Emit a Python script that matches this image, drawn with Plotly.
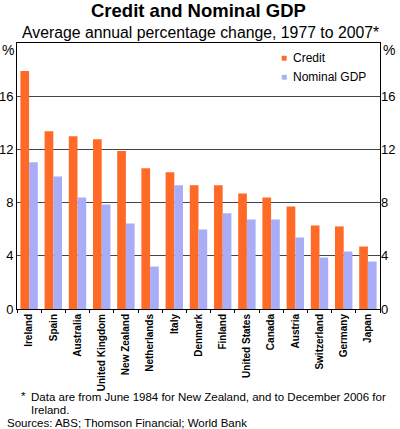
import plotly.graph_objects as go

countries = ["Ireland", "Spain", "Australia", "United Kingdom", "New Zealand",
             "Netherlands", "Italy", "Denmark", "Finland", "United States",
             "Canada", "Austria", "Switzerland", "Germany", "Japan"]
credit = [17.9, 13.37, 12.99, 12.76, 11.88, 10.58, 10.28, 9.30, 9.30, 8.69,
          8.39, 7.71, 6.28, 6.21, 4.70]
nominal_gdp = [11.03, 9.97, 8.39, 7.86, 6.43, 3.19, 9.30, 5.98, 7.19, 6.73,
               6.73, 5.38, 3.87, 4.32, 3.57]
yticks = [0, 4, 8, 12, 16]

ORANGE = "#FF6A26"
LAV = "#A9ADF8"
FONT = "Liberation Sans, Arial, sans-serif"
W, H = 400, 429
ML, MR, MT, MB = 17, 20, 43, 120

fig = go.Figure()
fig.add_trace(go.Bar(x=countries, y=credit, marker_color=ORANGE, marker_line_width=0,
                     showlegend=False, name="Credit"))
fig.add_trace(go.Bar(x=countries, y=nominal_gdp, marker_color=LAV, marker_line_width=0,
                     showlegend=False, name="Nominal GDP"))
fig.add_trace(go.Scatter(x=[countries[0]], y=[0], yaxis="y2", mode="markers",
                         marker=dict(opacity=0, size=1), showlegend=False,
                         hoverinfo="skip"))

fig.update_layout(
    width=W, height=H,
    margin=dict(l=ML, r=MR, t=MT, b=MB, autoexpand=False),
    paper_bgcolor="white", plot_bgcolor="white",
    font=dict(family=FONT, color="black"),
    barmode="group", bargap=0.28, bargroupgap=0,
    showlegend=False,
    xaxis=dict(range=[-0.5, len(countries) - 0.5],
               tickangle=-90, tickfont=dict(size=10, family=FONT, weight="bold"),
               showline=True, linecolor="black", linewidth=1, mirror=True,
               ticks="outside", tickson="boundaries", ticklen=3, tickcolor="black",
               showgrid=False, automargin=False),
    yaxis=dict(range=[0, 20], tickvals=yticks, showgrid=True, gridcolor="#444444",
               gridwidth=1, showline=True, linecolor="black", linewidth=1, mirror=True,
               tickfont=dict(size=13), ticks="", zeroline=False, automargin=False),
    yaxis2=dict(range=[0, 20], tickvals=yticks, overlaying="y", side="right",
                showgrid=False, tickfont=dict(size=13), ticks="", zeroline=False,
                showline=False, automargin=False),
)

def px(xp, yp):
    return (xp - ML) / (W - ML - MR), (H - MB - yp) / (H - MT - MB)

def ann(text, xp, yp, size, xanchor="center", color="black"):
    xx, yy = px(xp, yp)
    fig.add_annotation(text=text, x=xx, y=yy, xref="paper", yref="paper",
                       showarrow=False, xanchor=xanchor, yanchor="middle",
                       font=dict(size=size, family=FONT, color=color))

ann("<b>Credit and Nominal GDP</b>", 199, 10, 18.5)
ann("Average annual percentage change, 1977 to 2007*", 200, 33, 15.8)
ann("%", 8, 50, 14)
ann("%", 389, 50, 14)

# legend
ann("■", 279, 57, 10, xanchor="left", color=ORANGE)
ann("Credit", 291, 58, 12, xanchor="left")
ann("■", 279, 76, 10, xanchor="left", color=LAV)
ann("Nominal GDP", 291, 77, 12, xanchor="left")

ann("*", 19, 396, 11.5, xanchor="left")
ann("Data are from June 1984 for New Zealand, and to December 2006 for", 29, 397, 11.5, xanchor="left")
ann("Ireland.", 29, 410, 11.5, xanchor="left")
ann("Sources: ABS; Thomson Financial; World Bank", 5, 423, 11.5, xanchor="left")

fig.write_html("out.html")
